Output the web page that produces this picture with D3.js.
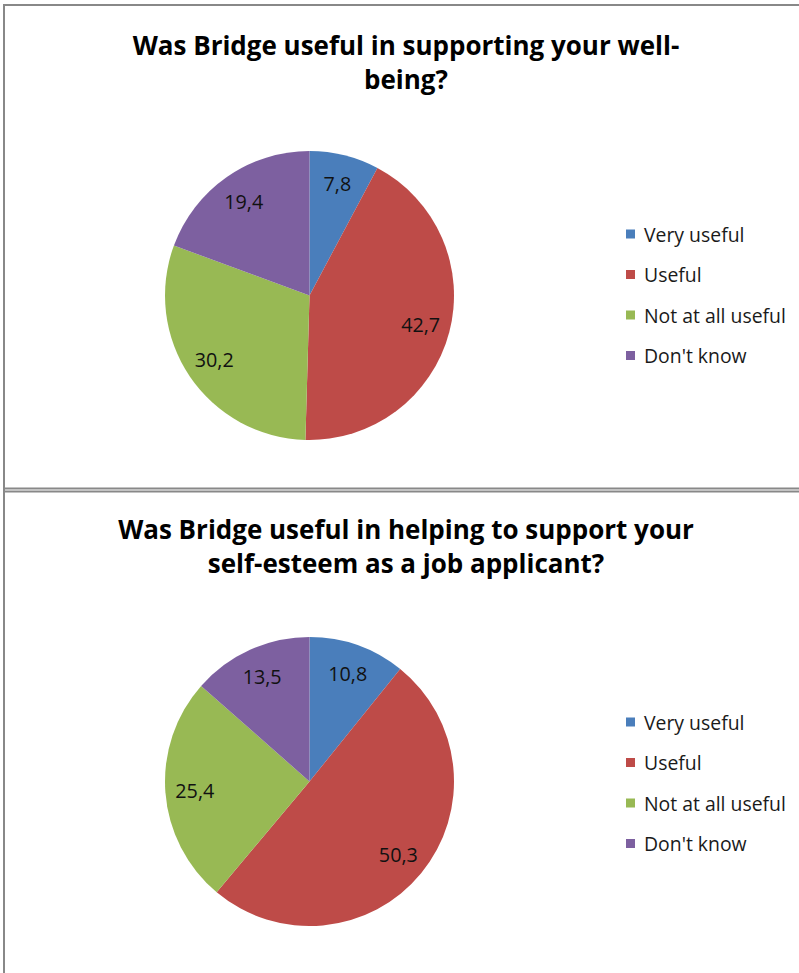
<!DOCTYPE html>
<html>
<head>
<meta charset="utf-8">
<script src="https://cdn.jsdelivr.net/npm/d3@7"></script>
<style>
  html, body { margin: 0; padding: 0; background: #fff; }
  svg { display: block; }
</style>
</head>
<body>
<svg id="chart" width="799" height="973"></svg>
<script>
// Response categories shared by both questions
const categories = ["Very useful", "Useful", "Not at all useful", "Don't know"];
const colors = ["#4A7EBB", "#BE4B48", "#98B954", "#7D60A0"];

// Question 1: well-being (percent of respondents)
const titleWellbeing = ["Was Bridge useful in supporting your well-", "being?"];
const valuesWellbeing = [7.8, 42.7, 30.2, 19.4];

// Question 2: self-esteem as a job applicant (percent of respondents)
const titleSelfEsteem = ["Was Bridge useful in helping to support your", "self-esteem as a job applicant?"];
const valuesSelfEsteem = [10.8, 50.3, 25.4, 13.5];

const svg = d3.select("#chart");
const FONT = "'Open Sans', 'Noto Sans', sans-serif";
const fmt = v => String(v.toFixed(1)).replace(".", ",");

// Fit a font size so that a sample string renders at the requested width
function fitSize(sample, weight, targetWidth) {
  const t = svg.append("text").attr("font-family", FONT).attr("font-weight", weight)
    .attr("font-size", 100).text(sample);
  const w = t.node().getComputedTextLength();
  t.remove();
  return 100 * targetWidth / w;
}

const titleSize = fitSize(titleSelfEsteem[0], 700, 576);
const legendSize = fitSize("Not at all useful", 400, 142);
const labelSize = fitSize("42,7", 400, 39);

const color = d3.scaleOrdinal().domain(categories).range(colors);
const radius = 144.5;
const pie = d3.pie().sort(null).value(d => d.value);
const arc = d3.arc().innerRadius(0).outerRadius(radius);
const labelArc = d3.arc().innerRadius(115).outerRadius(115);

function drawPanel(top, titleY, legendY, titleLines, values) {
  const g = svg.append("g").attr("transform", `translate(0,${top})`);

  // Title
  g.append("g").selectAll("text").data(titleLines).join("text")
    .attr("x", 406)
    .attr("y", (d, i) => titleY + i * 34)
    .attr("text-anchor", "middle")
    .attr("font-family", FONT)
    .attr("font-weight", 700)
    .attr("font-size", titleSize)
    .attr("fill", "#000")
    .text(d => d);

  // Pie
  const data = categories.map((c, i) => ({ category: c, value: values[i] }));
  const arcs = pie(data);
  const pg = g.append("g").attr("transform", `translate(309.5,290.5)`);
  pg.selectAll("path").data(arcs).join("path")
    .attr("d", arc)
    .attr("fill", d => color(d.data.category));

  pg.selectAll("text").data(arcs).join("text")
    .attr("transform", d => `translate(${labelArc.centroid(d)})`)
    .attr("text-anchor", "middle")
    .attr("dominant-baseline", "central")
    .attr("font-family", FONT)
    .attr("font-size", labelSize)
    .attr("fill", "#111")
    .text(d => fmt(d.data.value));

  // Legend
  const lg = g.append("g").attr("transform", `translate(626,${legendY})`);
  const items = lg.selectAll("g").data(categories).join("g")
    .attr("transform", (d, i) => `translate(0,${i * 40.5})`);
  items.append("rect")
    .attr("x", 0).attr("y", -4.5).attr("width", 9).attr("height", 9)
    .attr("fill", d => color(d));
  items.append("text")
    .attr("x", 18).attr("y", 0)
    .attr("dominant-baseline", "central")
    .attr("font-family", FONT)
    .attr("font-size", legendSize)
    .attr("fill", "#1a1a1a")
    .text(d => d);
}

drawPanel(5, 50, 229, titleWellbeing, valuesWellbeing);
drawPanel(491, 48, 231, titleSelfEsteem, valuesSelfEsteem);

// Panel frames
const frame = svg.append("g").attr("stroke", "#888").attr("stroke-width", 2).attr("fill", "none");
frame.append("line").attr("x1", 4).attr("x2", 799).attr("y1", 5).attr("y2", 5);
frame.append("line").attr("x1", 4).attr("x2", 799).attr("y1", 488.5).attr("y2", 488.5);
frame.append("line").attr("x1", 4).attr("x2", 799).attr("y1", 491.5).attr("y2", 491.5);
frame.append("line").attr("x1", 4).attr("x2", 4).attr("y1", 4).attr("y2", 973);
</script>
</body>
</html>
